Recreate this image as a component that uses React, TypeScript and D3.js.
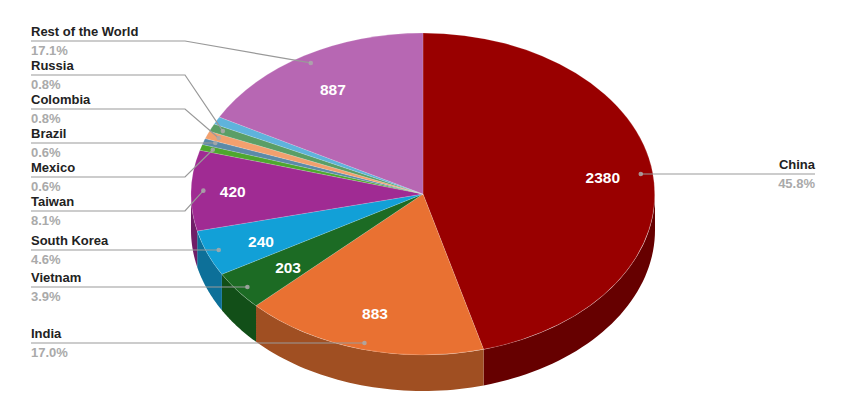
import React from "react";
import * as d3 from "d3";

const categories = ["China", "India", "Vietnam", "South Korea", "Taiwan", "Mexico", "Brazil", "Colombia", "Russia", "Other", "Rest of the World"];
const values = [2380, 883, 203, 240, 420, 31, 31, 41, 41, 40, 887];
const percents = ["45.8%", "17.0%", "3.9%", "4.6%", "8.1%", "0.6%", "0.6%", "0.8%", "0.8%", "", "17.1%"];
const topColors = ["#990000", "#e97132", "#1c6b24", "#12a0d7", "#a02b93", "#4ea72e", "#5b8aa8", "#f2a06e", "#5a9e66", "#5fb3dc", "#b767b3"];
const sideColors = ["#660000", "#a04f22", "#124f18", "#0d7099", "#701e67", "#37741f", "#3f6075", "#a9704d", "#3f6e47", "#42809c", "#80487d"];
const valueLabelled = ["China", "India", "Vietnam", "South Korea", "Taiwan", "Rest of the World"];
const labelLineY: Record<string, number> = { "Rest of the World": 41, Russia: 75, Colombia: 109, Brazil: 143, Mexico: 177, Taiwan: 211, "South Korea": 250, Vietnam: 287, India: 343, China: 174 };
const valueNudge: Record<string, [number, number]> = { China: [5, 0], India: [-1, 2], Vietnam: [6, 0], "South Korea": [2, 2], Taiwan: [-14, 0], "Rest of the World": [0, 1] };

const W = 846, H = 400, cx = 423, cy = 194, rx = 232, ry = 161, depth = 36;
const px = (a: number, f = 1) => cx + rx * f * Math.sin(a);
const py = (a: number, f = 1) => cy - ry * f * Math.cos(a);

export default function App() {
  const data = categories.map((c, i) => ({ c, v: values[i], i }));
  const arcs = d3.pie<any>().sort(null).value((d) => d.v)(data);
  const arc = d3.arc<any>().innerRadius(0).outerRadius(1);
  const wall = d3.area<number>().x((a) => px(a)).y0((a) => py(a)).y1((a) => py(a) + depth);
  const font = "'Liberation Sans', Arial, sans-serif";
  return (
    <svg width={W} height={H} style={{ position: "absolute", left: 0, top: 0, background: "#fff" }} fontFamily={font}>
      {arcs.map((s) => {
        const a0 = Math.max(s.startAngle, Math.PI / 2);
        const a1 = Math.min(s.endAngle, (3 * Math.PI) / 2);
        if (a1 <= a0) return null;
        const pts = d3.range(0, 41).map((k) => a0 + ((a1 - a0) * k) / 40);
        return <path key={s.data.c} d={wall(pts) ?? ""} fill={sideColors[s.data.i]} />;
      })}
      {arcs.map((s) => (
        <path key={s.data.c} d={arc(s) ?? ""} transform={`translate(${cx},${cy}) scale(${rx},${ry})`} fill={topColors[s.data.i]} stroke="#fff" strokeOpacity={0.22} strokeWidth={0.7} vectorEffect="non-scaling-stroke" />
      ))}
      {arcs.map((s) => {
        const y = labelLineY[s.data.c];
        if (y === undefined) return null;
        const mid = (s.startAngle + s.endAngle) / 2;
        const dx = px(mid, 0.947), dy = py(mid, 0.947);
        const right = s.data.c === "China";
        const flat = Math.abs(dy - y) < 3;
        const d = right
          ? `M815,${y}L${dx},${y}`
          : flat
            ? `M31,${y}L${dx},${y}`
            : `M31,${y}L185,${y}L${dx},${dy}`;
        const tx = right ? 815 : 31;
        const anchor = right ? "end" : "start";
        return (
          <g key={s.data.c}>
            <path d={d} fill="none" stroke="#999" strokeWidth={1.2} />
            <circle cx={dx} cy={flat || right ? y : dy} r={2.3} fill="#aaa" fillOpacity={0.85} />
            <text x={tx} y={y - 5} textAnchor={anchor} fontSize={13} fontWeight="bold" fill="#222">{s.data.c}</text>
            <text x={tx} y={y + 14} textAnchor={anchor} fontSize={13} fontWeight="bold" fill="#aaa">{percents[s.data.i]}</text>
          </g>
        );
      })}
      {arcs.filter((s) => valueLabelled.includes(s.data.c)).map((s) => {
        const mid = (s.startAngle + s.endAngle) / 2;
        const [nx, ny] = valueNudge[s.data.c];
        return (
          <text key={s.data.c} x={px(mid, 0.76) + nx} y={py(mid, 0.76) + 5.5 + ny} textAnchor="middle" fontSize={15.5} fontWeight="bold" fill="#fff">{s.data.v}</text>
        );
      })}
    </svg>
  );
}
